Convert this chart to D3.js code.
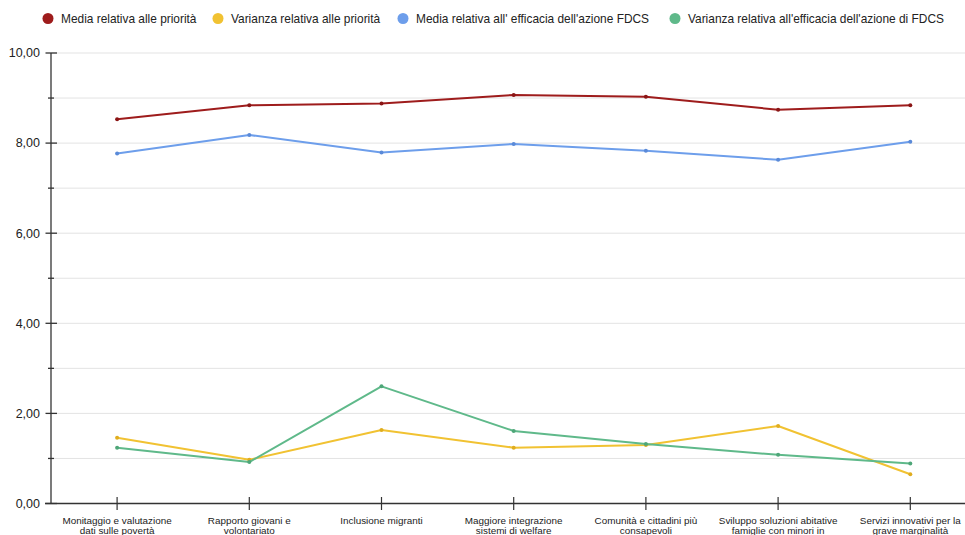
<!DOCTYPE html>
<html>
<head>
<meta charset="utf-8">
<script src="https://cdn.jsdelivr.net/npm/d3@7"></script>
<style>
  html, body { margin: 0; padding: 0; background: #fff; }
  svg { display: block; font-family: "Liberation Sans", Arial, Helvetica, sans-serif; }
</style>
</head>
<body>
<svg id="chart" width="965" height="535"></svg>
<script>
// Categories (x axis), two lines each
const categories = [
  ["Monitaggio e valutazione", "dati sulle povertà"],
  ["Rapporto giovani e", "volontariato"],
  ["Inclusione migranti"],
  ["Maggiore integrazione", "sistemi di welfare"],
  ["Comunità e cittadini più", "consapevoli"],
  ["Sviluppo soluzioni abitative", "famiglie con minori in"],
  ["Servizi innovativi per la", "grave marginalità"]
];

const seriesNames = [
  "Media relativa alle priorità",
  "Varianza relativa alle priorità",
  "Media relativa all' efficacia dell'azione FDCS",
  "Varianza relativa all'efficacia dell'azione di FDCS"
];
const seriesColors = ["#9e1c1c", "#f1c232", "#6d9eeb", "#5fb98a"];
const markerColors = ["#8a1515", "#e0ad1f", "#5a8ad8", "#4ea678"];

const mediaPriorita   = [8.53, 8.84, 8.88, 9.07, 9.03, 8.74, 8.84];
const varianzaPriorita = [1.46, 0.97, 1.63, 1.24, 1.30, 1.72, 0.65];
const mediaEfficacia  = [7.77, 8.18, 7.79, 7.98, 7.83, 7.63, 8.03];
const varianzaEfficacia = [1.24, 0.92, 2.60, 1.61, 1.32, 1.08, 0.89];

const seriesValues = [mediaPriorita, varianzaPriorita, mediaEfficacia, varianzaEfficacia];

const yMajorTicks = [0, 2, 4, 6, 8, 10];
const yMinorTicks = [1, 3, 5, 7, 9];
const yTickFormat = v => v.toFixed(2).replace(".", ",");

const svg = d3.select("#chart");
const W = 965, H = 535;
const plotLeft = 51, plotTop = 53, plotBottom = 503.5;

const x = d3.scaleBand()
  .domain(d3.range(categories.length))
  .range([plotLeft, plotLeft + 132.2 * categories.length])
  .paddingInner(0).paddingOuter(0);
const xc = i => x(i) + x.bandwidth() / 2;

const y = d3.scaleLinear().domain([0, 10]).range([plotBottom, plotTop]);

// Horizontal gridlines at every unit
svg.append("g")
  .selectAll("line")
  .data(d3.range(1, 11))
  .join("line")
  .attr("x1", plotLeft).attr("x2", W)
  .attr("y1", d => y(d)).attr("y2", d => y(d))
  .attr("stroke", "#e3e3e3").attr("stroke-width", 1);

// Y axis line
svg.append("line")
  .attr("x1", plotLeft).attr("x2", plotLeft)
  .attr("y1", plotTop).attr("y2", plotBottom)
  .attr("stroke", "#333").attr("stroke-width", 1.3);

// Major ticks, minor ticks and labels
const yAxisG = svg.append("g");
yAxisG.selectAll("line.major")
  .data(yMajorTicks)
  .join("line")
  .attr("class", "major")
  .attr("x1", plotLeft - 5.5).attr("x2", plotLeft + 6)
  .attr("y1", d => y(d)).attr("y2", d => y(d))
  .attr("stroke", "#333").attr("stroke-width", 1.3);
yAxisG.selectAll("line.minor")
  .data(yMinorTicks)
  .join("line")
  .attr("class", "minor")
  .attr("x1", plotLeft - 3).attr("x2", plotLeft + 3)
  .attr("y1", d => y(d)).attr("y2", d => y(d))
  .attr("stroke", "#333").attr("stroke-width", 1.3);
yAxisG.selectAll("text")
  .data(yMajorTicks)
  .join("text")
  .attr("x", 40).attr("y", d => y(d))
  .attr("dy", "0.35em")
  .attr("text-anchor", "end")
  .attr("font-size", 12.5)
  .attr("fill", "#222")
  .text(yTickFormat);

// X axis line
svg.append("line")
  .attr("x1", plotLeft - 6).attr("x2", W)
  .attr("y1", plotBottom).attr("y2", plotBottom)
  .attr("stroke", "#333").attr("stroke-width", 1.3);

const xAxisG = svg.append("g");
xAxisG.selectAll("line")
  .data(categories.map((c, i) => i))
  .join("line")
  .attr("x1", d => xc(d)).attr("x2", d => xc(d))
  .attr("y1", plotBottom - 6.5).attr("y2", plotBottom + 6.5)
  .attr("stroke", "#333").attr("stroke-width", 1.2);
const xLabels = xAxisG.selectAll("text")
  .data(categories)
  .join("text")
  .attr("text-anchor", "middle")
  .attr("font-size", 9.9)
  .attr("fill", "#222");
xLabels.each(function(lines, i) {
  const t = d3.select(this);
  lines.forEach((ln, k) => {
    t.append("tspan")
      .attr("x", xc(i))
      .attr("y", 524 + k * 9.5)
      .text(ln);
  });
});

// Series lines and markers
const line = d3.line().x((d, i) => xc(i)).y(d => y(d));
seriesValues.forEach((vals, s) => {
  svg.append("path")
    .datum(vals)
    .attr("d", line)
    .attr("fill", "none")
    .attr("stroke", seriesColors[s])
    .attr("stroke-width", 2)
    .attr("stroke-linejoin", "round");
  svg.append("g")
    .selectAll("circle")
    .data(vals)
    .join("circle")
    .attr("cx", (d, i) => xc(i))
    .attr("cy", d => y(d))
    .attr("r", 2)
    .attr("fill", markerColors[s]);
});

// Legend
const legendX = [48, 218, 403, 675];
const legend = svg.append("g");
seriesNames.forEach((name, s) => {
  legend.append("circle")
    .attr("cx", legendX[s]).attr("cy", 18.5).attr("r", 5.5)
    .attr("fill", seriesColors[s]);
  legend.append("text")
    .attr("x", legendX[s] + 13).attr("y", 18.5)
    .attr("dy", "0.35em")
    .attr("font-size", 11.9)
    .attr("fill", "#222")
    .text(name);
});
</script>
</body>
</html>
